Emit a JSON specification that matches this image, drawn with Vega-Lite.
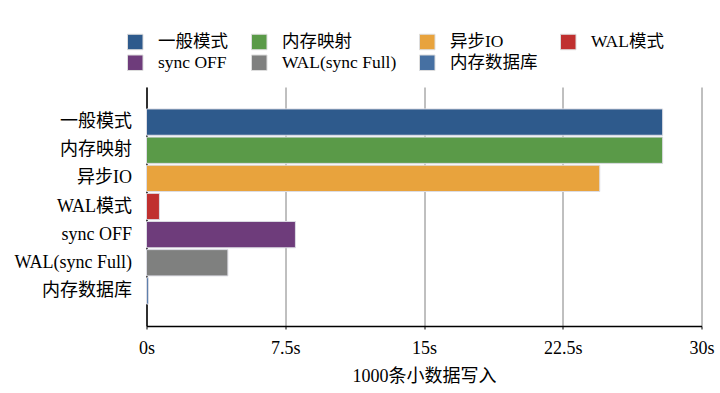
{
  "$schema": "https://vega.github.io/schema/vega-lite/v6.json",
  "width": 555,
  "height": 239,
  "autosize": {"type": "none"},
  "padding": {"left": 146.5, "top": 87, "right": 18.5, "bottom": 67},
  "background": "white",
  "config": {
    "font": "Liberation Serif, Noto Sans CJK SC",
    "view": {"stroke": null},
    "axis": {"labelFont": "Liberation Serif, Noto Sans CJK SC", "titleFont": "Liberation Serif, Noto Sans CJK SC", "labelColor": "#000", "titleColor": "#000", "titleFontWeight": "normal"},
    "legend": {"labelFont": "Liberation Serif, Noto Sans CJK SC", "labelColor": "#000"}
  },
  "data": {
    "values": [
      {"mode": "一般模式", "time": 27.9},
      {"mode": "内存映射", "time": 27.9},
      {"mode": "异步IO", "time": 24.5},
      {"mode": "WAL模式", "time": 0.7},
      {"mode": "sync OFF", "time": 8.05},
      {"mode": "WAL(sync Full)", "time": 4.4},
      {"mode": "内存数据库", "time": 0.1}
    ]
  },
  "mark": {"type": "bar", "stroke": "#dcdce4", "strokeWidth": 1},
  "encoding": {
    "y": {
      "field": "mode",
      "type": "nominal",
      "sort": ["一般模式", "内存映射", "异步IO", "WAL模式", "sync OFF", "WAL(sync Full)", "内存数据库"],
      "scale": {"paddingInner": 0.065, "paddingOuter": 0.78},
      "axis": {"title": null, "ticks": false, "labelPadding": 15, "labelFontSize": 18, "domainColor": "#000", "domainWidth": 1.5, "grid": false}
    },
    "x": {
      "field": "time",
      "type": "quantitative",
      "scale": {"domain": [0, 30], "nice": false},
      "axis": {
        "title": "1000条小数据写入",
        "titleFontSize": 18,
        "titlePadding": 10,
        "values": [0, 7.5, 15, 22.5, 30],
        "labelExpr": "datum.value + 's'",
        "labelFontSize": 18,
        "labelPadding": 10,
        "labelFlush": false,
        "tickSize": 3,
        "tickColor": "#000",
        "domainColor": "#000",
        "domainWidth": 1.5,
        "grid": true,
        "gridColor": "#808080",
        "gridWidth": 1
      }
    },
    "color": {
      "field": "mode",
      "type": "nominal",
      "scale": {
        "domain": ["一般模式", "内存映射", "异步IO", "WAL模式", "sync OFF", "WAL(sync Full)", "内存数据库"],
        "range": ["#2E5A8C", "#5A9A48", "#E8A33D", "#C0302F", "#6E3C7B", "#7F807F", "#4670A2"]
      },
      "legend": {
        "title": null,
        "orient": "none",
        "legendX": -20,
        "legendY": -54,
        "direction": "horizontal",
        "columns": 4,
        "symbolType": "square",
        "symbolSize": 240,
        "symbolStrokeColor": "#dddddd",
        "symbolStrokeWidth": 1,
        "symbolOpacity": 1,
        "labelFontSize": 17.5,
        "labelOffset": 14,
        "columnPadding": 21,
        "rowPadding": 1,
        "padding": 0
      }
    }
  }
}
